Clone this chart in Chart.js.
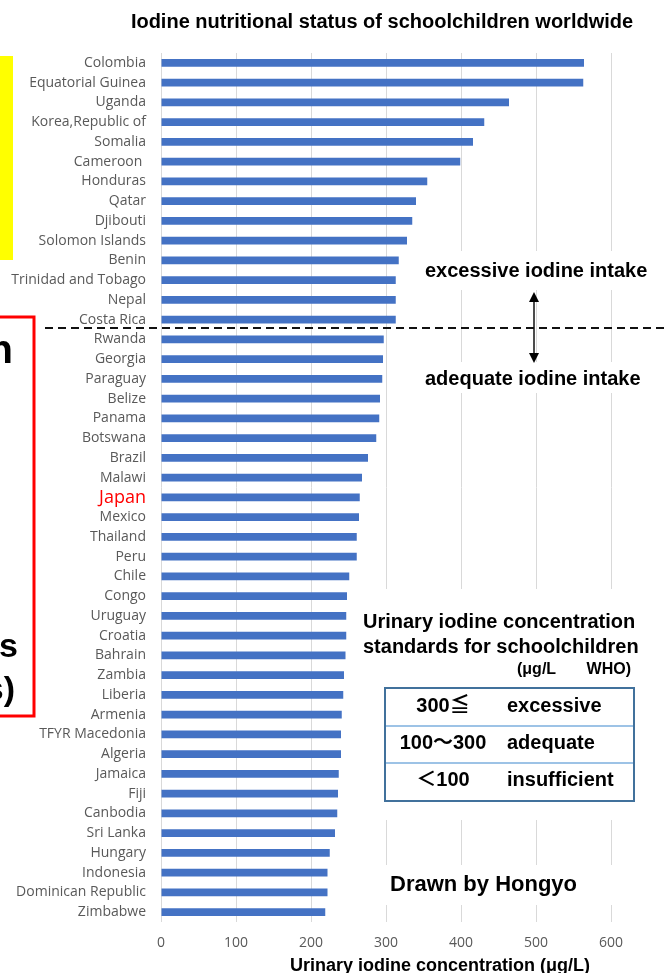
<!DOCTYPE html>
<html>
<head>
<meta charset="utf-8">
<script src="https://cdn.jsdelivr.net/npm/chart.js@4.4.1/dist/chart.umd.min.js"></script>
<style>
body { margin: 0; background: #fff; }
canvas { display: block; }
</style>
</head>
<body>
<canvas id="myChart" width="667" height="973"></canvas>
<script>
const countries = [
	'Colombia', 'Equatorial Guinea', 'Uganda', 'Korea,Republic of', 'Somalia',
	'Cameroon ', 'Honduras', 'Qatar', 'Djibouti', 'Solomon Islands',
	'Benin', 'Trinidad and Tobago', 'Nepal', 'Costa Rica', 'Rwanda',
	'Georgia', 'Paraguay', 'Belize', 'Panama', 'Botswana',
	'Brazil', 'Malawi', 'Japan', 'Mexico', 'Thailand',
	'Peru', 'Chile', 'Congo', 'Uruguay', 'Croatia',
	'Bahrain', 'Zambia', 'Liberia', 'Armenia', 'TFYR Macedonia',
	'Algeria', 'Jamaica', 'Fiji', 'Canbodia', 'Sri Lanka',
	'Hungary', 'Indonesia', 'Dominican Republic', 'Zimbabwe'
];
const iodineValues = [
	564, 563, 464, 431, 416,
	399, 355, 340, 335, 328,
	317, 313, 313, 313, 297,
	296, 295, 292, 291, 287,
	276, 268, 265, 264, 261,
	261, 251, 248, 247, 247,
	246, 244, 243, 241, 240,
	240, 237, 236, 235, 232,
	225, 222, 222, 219
];
const xTickValues = [0, 100, 200, 300, 400, 500, 600];
const highlightCountry = 'Japan';

const chartTitle = 'Iodine nutritional status of schoolchildren worldwide';
const axisTitle = 'Urinary iodine concentration (μg/L)';
const upperNote = 'excessive iodine intake';
const lowerNote = 'adequate iodine intake';
const standardsHeading = ['Urinary iodine concentration', 'standards for schoolchildren'];
const standardsUnit = ['(μg/L', 'WHO)'];
const standardRanges = ['300≦', '100～300', '＜100'];
const standardLabels = ['excessive', 'adequate', 'insufficient'];
const creditText = 'Drawn by Hongyo';
const cutTexts = ['n', 's', 's)'];

const boldFont = size => 'bold ' + size + 'px "Liberation Sans", Arial, "Noto Sans CJK JP", sans-serif';

// title, side notes, table and other decorations drawn over the chart
const annotationPlugin = {
	id: 'annotations',
	afterDraw: function (chart) {
		const ctx = chart.ctx;
		ctx.save();

		ctx.fillStyle = '#000';
		ctx.textAlign = 'center';
		ctx.textBaseline = 'middle';
		ctx.font = boldFont(20);
		ctx.fillText(chartTitle, 382, 22);

		// yellow strip and red frame on the left edge
		ctx.fillStyle = '#ffff00';
		ctx.fillRect(0, 56, 13, 204);
		ctx.strokeStyle = '#ff0000';
		ctx.lineWidth = 3;
		ctx.strokeRect(-10, 317, 44, 399);

		ctx.fillStyle = '#000';
		ctx.textAlign = 'right';
		ctx.textBaseline = 'alphabetic';
		ctx.font = boldFont(40);
		ctx.fillText(cutTexts[0], 13, 363);
		ctx.font = boldFont(34);
		ctx.fillText(cutTexts[1], 18, 657);
		ctx.fillText(cutTexts[2], 15, 700);

		// white patches that hide the grid behind the notes
		ctx.fillStyle = '#fff';
		ctx.fillRect(418, 251, 249, 39);
		ctx.fillRect(418, 362, 249, 31);
		ctx.fillRect(356, 589, 300, 231);
		ctx.fillRect(378, 865, 250, 40);

		ctx.fillStyle = '#000';
		ctx.textAlign = 'left';
		ctx.textBaseline = 'middle';
		ctx.font = boldFont(20);
		ctx.fillText(upperNote, 425, 271);
		ctx.fillText(lowerNote, 425, 379);
		ctx.fillText(standardsHeading[0], 363, 622);
		ctx.fillText(standardsHeading[1], 363, 647);
		ctx.font = boldFont(16);
		ctx.fillText(standardsUnit[0], 517, 670);
		ctx.textAlign = 'right';
		ctx.fillText(standardsUnit[1], 631, 670);

		// dashed border between excessive / adequate
		ctx.strokeStyle = '#111';
		ctx.lineWidth = 2;
		ctx.setLineDash([8, 5]);
		ctx.beginPath();
		ctx.moveTo(45, 328);
		ctx.lineTo(667, 328);
		ctx.stroke();
		ctx.setLineDash([]);

		// double arrow
		ctx.lineWidth = 1.5;
		ctx.beginPath();
		ctx.moveTo(534, 298);
		ctx.lineTo(534, 356);
		ctx.stroke();
		ctx.beginPath();
		ctx.moveTo(534, 292);
		ctx.lineTo(529, 302);
		ctx.lineTo(539, 302);
		ctx.closePath();
		ctx.fill();
		ctx.beginPath();
		ctx.moveTo(534, 363);
		ctx.lineTo(529, 353);
		ctx.lineTo(539, 353);
		ctx.closePath();
		ctx.fill();

		// WHO table
		const tLeft = 385, tTop = 688, tW = 249, tH = 113;
		const rowLines = [726, 763];
		const rowCenters = [706, 743, 780];
		ctx.strokeStyle = '#9dc3e6';
		ctx.lineWidth = 2;
		rowLines.forEach(y => {
			ctx.beginPath();
			ctx.moveTo(tLeft, y);
			ctx.lineTo(tLeft + tW, y);
			ctx.stroke();
		});
		ctx.strokeStyle = '#41719c';
		ctx.strokeRect(tLeft, tTop, tW, tH);
		ctx.font = boldFont(20);
		standardRanges.forEach((t, i) => {
			ctx.textAlign = 'center';
			ctx.fillText(t, 443, rowCenters[i]);
			ctx.textAlign = 'left';
			ctx.fillText(standardLabels[i], 507, rowCenters[i]);
		});

		ctx.font = boldFont(22);
		ctx.textAlign = 'left';
		ctx.fillText(creditText, 390, 885);

		ctx.font = boldFont(18);
		ctx.textAlign = 'center';
		ctx.fillText(axisTitle, 440, 966);

		ctx.restore();
	}
};

const datasets = [];
datasets.push({
	label: 'UIC',
	data: iodineValues,
	backgroundColor: '#4472c4',
	borderWidth: 0,
	barPercentage: 0.4,
	categoryPercentage: 1,
});

const config = {
	type: 'bar',
	data: {
		labels: countries,
		datasets,
	},
	options: {
		indexAxis: 'y',
		responsive: false,
		animation: false,
		layout: { padding: { left: 0, right: 56, top: 53, bottom: 0 } },
		scales: {
			x: {
				min: 0,
				max: 600,
				afterBuildTicks: function (axis) {
					axis.ticks = xTickValues.map(v => ({ value: v }));
				},
				afterFit: function (scale) { scale.height = 51; },
				grid: { color: '#d9d9d9', lineWidth: 1, drawTicks: false },
				border: { display: false },
				ticks: {
					padding: 13,
					color: '#595959',
					font: { family: '"Open Sans", sans-serif', size: 14 },
				},
			},
			y: {
				afterFit: function (scale) { scale.width = 161; },
				grid: { display: false, drawTicks: false },
				border: { display: false },
				ticks: {
					autoSkip: false,
					padding: 15,
					color: c => countries[c.index] === highlightCountry ? '#ff0000' : '#595959',
					font: c => ({
						family: '"Open Sans", sans-serif',
						size: countries[c.index] === highlightCountry ? 18 : 14,
					}),
				},
			},
		},
		plugins: {
			legend: { display: false },
			tooltip: { enabled: false },
			title: { display: false },
		},
	},
	plugins: [annotationPlugin],
};

const ctx = document.getElementById('myChart').getContext('2d');
const myChart = new Chart(ctx, config);
</script>
</body>
</html>
